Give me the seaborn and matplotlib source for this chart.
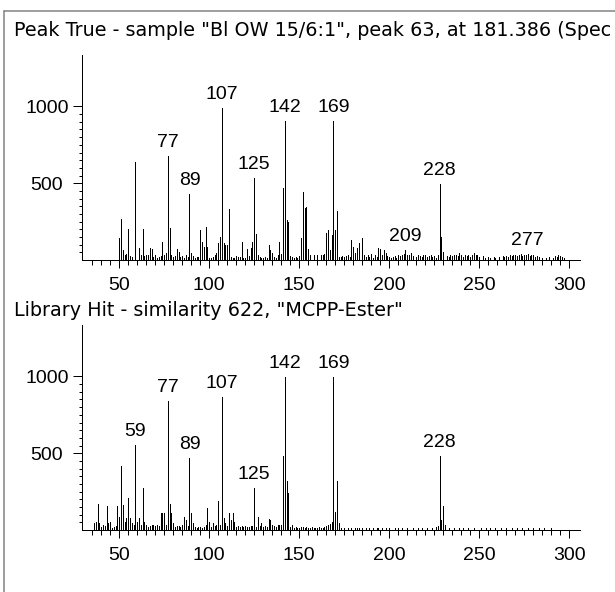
import matplotlib
matplotlib.use("Agg")
import matplotlib.pyplot as plt
import seaborn as sns
from matplotlib.lines import Line2D
from matplotlib.ticker import FixedLocator, NullFormatter

# ---------------- data ----------------
title_top = 'Peak True - sample "Bl OW 15/6:1", peak 63, at 181.386 (Spec'
title_lib = 'Library Hit - similarity 622, "MCPP-Ester"'

top_mz = [50, 51, 52, 53, 54, 55, 56, 57, 59, 61, 62, 63, 64, 65, 66, 67, 68, 69, 70,
          71, 72, 73, 74, 75, 76, 77, 78, 79, 80, 81, 82, 83, 84, 85, 86, 87, 88, 89,
          90, 91, 92, 93, 94, 95, 96, 97, 98, 99, 100, 101, 102, 103, 104, 105, 106,
          107, 108, 109, 110, 111, 112, 113, 114, 115, 116, 117, 118, 119, 120, 121,
          122, 123, 124, 125, 126, 127, 128, 129, 130, 131, 132, 133, 134, 135, 136,
          137, 138, 139, 140, 141, 142, 143, 144, 145, 146, 147, 148, 149, 150, 151,
          152, 153, 154, 155, 156, 158, 160, 162, 163, 164, 165, 166, 167, 168, 169,
          170, 171, 172, 173, 174, 175, 176, 177, 178, 179, 180, 181, 182, 183, 185,
          186, 187, 188, 189, 190, 191, 192, 193, 194, 195, 196, 197, 198, 199, 200,
          201, 202, 203, 204, 205, 206, 207, 208, 209, 210, 211, 212, 213, 215, 216,
          217, 218, 219, 220, 221, 222, 223, 224, 225, 226, 227, 228, 229, 230, 232,
          233, 234, 235, 236, 237, 238, 239, 240, 241, 242, 243, 244, 245, 246, 247,
          248, 249, 250, 252, 253, 255, 256, 258, 259, 261, 263, 264, 265, 266, 267,
          268, 269, 270, 271, 272, 273, 274, 275, 276, 277, 278, 279, 280, 281, 282,
          283, 285, 287, 289, 291, 292, 293, 294, 295, 296, 297]
top_int = [141, 265, 65, 30, 39, 200, 25, 20, 640, 80, 30, 200, 26, 33, 35, 80, 73, 20, 33,
           15, 20, 25, 120, 30, 48, 677, 206, 33, 20, 25, 72, 54, 20, 25, 15, 33, 20, 428,
           43, 26, 15, 17, 20, 195, 120, 87, 217, 87, 11, 15, 20, 30, 43, 108, 152,
           990, 108, 98, 100, 330, 20, 15, 11, 25, 17, 20, 120, 11, 15, 72,
           25, 76, 120, 532, 167, 30, 20, 15, 15, 20, 15, 100, 65, 43, 20,
           11, 30, 120, 40, 467, 905, 260, 250, 25, 20, 15, 20, 15, 25, 141,
           445, 340, 345, 70, 30, 33, 33, 30, 33, 40, 174, 195, 65, 163, 906,
           195, 321, 20, 20, 25, 20, 25, 30, 20, 130, 87, 43, 76, 108, 141,
           33, 22, 30, 22, 40, 11, 35, 20, 76, 70, 30, 65, 43, 25, 20,
           15, 20, 25, 11, 30, 25, 33, 40, 65, 30, 30, 43, 25, 20, 30,
           25, 20, 35, 30, 20, 25, 30, 20, 25, 15, 30, 495, 152, 50, 25,
           20, 30, 25, 30, 35, 25, 43, 30, 20, 35, 25, 33, 20, 30, 43,
           30, 33, 20, 25, 15, 20, 15, 20, 15, 20, 25, 20, 25, 20, 30,
           25, 30, 35, 25, 30, 40, 25, 35, 30, 40, 25, 35, 30, 20, 25,
           20, 15, 15, 20, 15, 25, 20, 30, 25, 20, 15]

lib_mz = [36, 37, 38, 39, 40, 41, 42, 43, 44, 45, 46, 47, 48, 49, 50, 51, 52, 53, 54, 55,
          56, 57, 58, 59, 60, 61, 62, 63, 64, 65, 66, 67, 68, 69, 70, 71, 72, 73, 74,
          75, 76, 77, 78, 79, 80, 81, 82, 83, 84, 85, 86, 87, 88, 89, 90, 91, 92, 93,
          94, 95, 96, 97, 98, 99, 100, 101, 102, 103, 104, 105, 106, 107, 108, 109,
          110, 111, 112, 113, 114, 115, 116, 117, 118, 119, 120, 121, 122, 123, 124,
          125, 126, 127, 128, 129, 130, 131, 132, 133, 134, 135, 136, 137, 138, 139,
          140, 141, 142, 143, 144, 145, 146, 147, 148, 149, 150, 151, 152, 153, 154,
          155, 156, 157, 158, 159, 160, 161, 162, 163, 164, 165, 166, 167, 168, 169,
          170, 171, 172, 173, 175, 177, 179, 181, 182, 183, 185, 187, 189, 191, 193,
          194, 196, 198, 200, 203, 205, 207, 210, 213, 216, 218, 221, 224, 226, 227,
          228, 229, 230, 231, 233, 236, 239, 241, 244, 247, 251, 254, 256, 259, 262,
          265, 268, 271, 274, 277, 280, 283, 286, 290]
lib_int = [43, 54, 169, 43, 20, 32, 25, 158, 43, 54, 15, 20, 25, 156, 87, 416, 162, 54, 76, 206,
           76, 43, 30, 552, 54, 80, 35, 271, 54, 32, 20, 25, 30, 30, 25, 30, 25, 108, 108,
           108, 30, 838, 167, 108, 43, 20, 25, 25, 20, 30, 87, 65, 25, 472, 108, 43, 20, 15,
           20, 22, 15, 20, 30, 141, 54, 20, 43, 25, 30, 188, 30, 866, 76, 43,
           25, 108, 65, 112, 54, 20, 25, 20, 25, 20, 25, 22, 20, 25, 25,
           271, 20, 87, 25, 43, 20, 25, 20, 69, 65, 30, 25, 20, 30, 30,
           35, 483, 995, 320, 238, 20, 32, 15, 22, 15, 15, 20, 22, 15, 20,
           15, 15, 20, 15, 10, 15, 20, 15, 15, 20, 25, 30, 40, 54, 995,
           119, 320, 43, 15, 10, 15, 10, 10, 11, 15, 10, 10, 15, 10, 15,
           10, 15, 10, 10, 10, 15, 10, 10, 15, 10, 10, 10, 15, 20, 25,
           483, 65, 156, 32, 10, 10, 15, 10, 15, 10, 10, 15, 10, 10, 10,
           15, 10, 10, 10, 15, 10, 10, 10, 10]

top_labels = [77, 89, 107, 125, 142, 169, 209, 228, 277]
lib_labels = [59, 77, 89, 107, 125, 142, 169, 228]

x_major = [50, 100, 150, 200, 250, 300]
x_minor = [35, 40, 45, 55, 60, 65, 70, 75, 80, 85, 90, 95, 105, 110, 115, 120, 125, 130,
           135, 140, 145, 155, 160, 165, 170, 175, 180, 185, 190, 195, 205, 210, 215,
           220, 225, 230, 235, 240, 245, 255, 260, 265, 270, 275, 280, 285, 290, 295]
y_major = [500, 1000]
y_minor = [50, 100, 150, 200, 250, 300, 350, 400, 450, 550, 600, 650, 700, 750, 800,
           850, 900, 950]

# ---------------- style ----------------
W, H, DPI = 615, 592, 100
PX = 72.0 / DPI  # points per pixel

sns.set_style("ticks")
plt.rcParams['font.family'] = ['Liberation Sans', 'DejaVu Sans']
FS = 14          # numbers
FS_TITLE = 13.8  # panel titles (wider face)
TITLE_FONT = ['DejaVu Sans']

fig = plt.figure(figsize=(W / DPI, H / DPI), dpi=DPI)
fig.patch.set_facecolor("white")


def px_axes(left, top, right, bottom):
    return fig.add_axes([left / W, 1 - bottom / H, (right - left) / W, (bottom - top) / H])


def draw_panel(ax, mz, inten, labels):
    ax.vlines(mz, 0, inten, colors="black", linewidth=1 * PX, antialiased=False)
    lookup = dict(zip(mz, inten))
    for m in labels:
        ax.annotate(str(m), (m, lookup[m]), xytext=(0, 5 * PX), textcoords="offset points",
                    ha="center", va="bottom", fontsize=FS, color="black")
    ax.set_xlim(29.3, 306)
    ax.set_ylim(0, 1335)
    ax.set_facecolor("white")
    sns.despine(ax=ax, top=True, right=True)
    for s in ("left", "bottom"):
        ax.spines[s].set_color("black")
        ax.spines[s].set_linewidth(1 * PX)
        ax.spines[s].set_antialiased(False)
    ax.xaxis.set_major_locator(FixedLocator(x_major))
    ax.xaxis.set_minor_locator(FixedLocator(x_minor))
    ax.yaxis.set_major_locator(FixedLocator(y_major))
    ax.yaxis.set_minor_locator(FixedLocator(y_minor))
    ax.xaxis.set_minor_formatter(NullFormatter())
    ax.yaxis.set_minor_formatter(NullFormatter())
    ax.tick_params(axis="x", which="major", direction="out", length=8 * PX,
                   width=1 * PX, pad=9 * PX, labelsize=FS, colors="black")
    ax.tick_params(axis="x", which="minor", direction="out", length=5 * PX,
                   width=1 * PX, colors="black")
    ax.tick_params(axis="y", which="major", direction="out", length=9 * PX,
                   width=1 * PX, pad=26 * PX, labelsize=FS, colors="black")
    ax.tick_params(axis="y", which="minor", direction="out", length=3.5 * PX,
                   width=1 * PX, colors="black")
    for lab in ax.get_yticklabels():
        lab.set_horizontalalignment("center")
    ax.set_xlabel("")
    ax.set_ylabel("")


ax1 = px_axes(82, 55, 580, 260)
ax2 = px_axes(82, 325, 580, 530)
draw_panel(ax1, top_mz, top_int, top_labels)
draw_panel(ax2, lib_mz, lib_int, lib_labels)

fig.text(14 / W, 1 - 30 / H, title_top, ha="left", va="center", fontsize=FS_TITLE,
         family=TITLE_FONT, color="black")
fig.text(14 / W, 1 - 311 / H, title_lib, ha="left", va="center", fontsize=FS_TITLE,
         family=TITLE_FONT, color="black")

# window frame (left and top edges)
frame_c = "#808080"
fig.add_artist(Line2D([4 / W, 4 / W], [0, 1 - 10.5 / H], color=frame_c, linewidth=1.5 * PX))
fig.add_artist(Line2D([4 / W, 1], [1 - 10.5 / H, 1 - 10.5 / H], color=frame_c, linewidth=1.5 * PX))

fig.savefig("out.png", dpi=DPI, facecolor="white")
